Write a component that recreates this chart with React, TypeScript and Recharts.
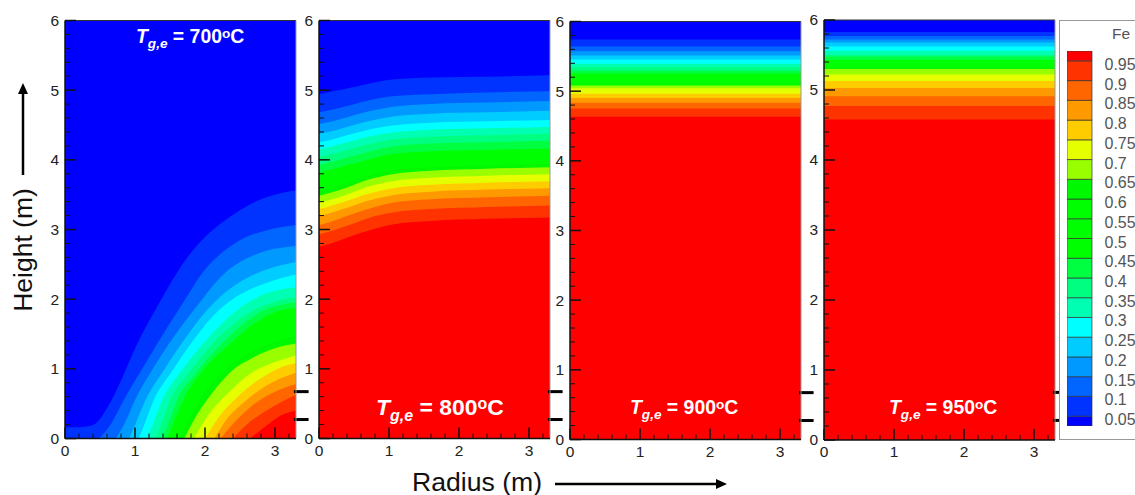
import { Area, AreaChart, Bar, BarChart, ReferenceLine, XAxis, YAxis } from 'recharts';

// Fe contour levels, colours from lowest band (<0.05) to highest (>0.95)
const LEVELS = [0.05, 0.1, 0.15, 0.2, 0.25, 0.3, 0.35, 0.4, 0.45, 0.5, 0.55, 0.6, 0.65, 0.7, 0.75, 0.8, 0.85, 0.9, 0.95];
const BAND_COLORS = [
  '#0000ff', '#0033ff', '#0066ff', '#0099ff', '#00ccff', '#00ffff', '#00ffb3', '#00ff80', '#00ff40', '#00ff00',
  '#00ff00', '#00ff00', '#00f800', '#99ff00', '#e6ff00', '#ffcc00', '#ff9900', '#ff6600', '#ff3300', '#ff0000',
];
const BAND_SIZES = [0.05, ...LEVELS.slice(1).map((l, i) => l - LEVELS[i]), 0.05];

const X_TICKS = [0, 0.2, 0.4, 0.6, 0.8, 1, 1.2, 1.4, 1.6, 1.8, 2, 2.2, 2.4, 2.6, 2.8, 3, 3.2];
const Y_TICKS = [0, 0.2, 0.4, 0.6, 0.8, 1, 1.2, 1.4, 1.6, 1.8, 2, 2.2, 2.4, 2.6, 2.8, 3, 3.2, 3.4, 3.6, 3.8, 4, 4.2, 4.4, 4.6, 4.8, 5, 5.2, 5.4, 5.6, 5.8, 6];
const INNER_MARKS = [0.28, 0.68];

type Pt = [number, number];

// boundary of each level, [radius, height]
const CONTOURS_700: Pt[][] = [
  [[0, 0.17], [0.2, 0.17], [0.4, 0.2], [0.6, 0.44], [0.8, 0.84], [1, 1.3], [1.29, 1.85], [1.75, 2.61], [2, 2.9], [2.22, 3.09], [2.75, 3.42], [3.05, 3.52], [3.3, 3.57]],
  [[0.48, 0], [0.66, 0.22], [0.84, 0.56], [1.1, 1], [1.35, 1.42], [1.62, 1.85], [2.03, 2.47], [2.25, 2.68], [2.51, 2.86], [2.9, 3], [3.3, 3.07]],
  [[0.72, 0], [0.85, 0.22], [1, 0.56], [1.25, 1], [1.55, 1.46], [1.84, 1.85], [2.27, 2.37], [2.75, 2.66], [3.3, 2.77]],
  [[0.91, 0], [1, 0.2], [1.15, 0.56], [1.4, 0.97], [1.7, 1.42], [2.03, 1.85], [2.25, 2.07], [2.46, 2.23], [2.9, 2.44], [3.3, 2.54]],
  [[1.05, 0], [1.13, 0.2], [1.27, 0.56], [1.52, 0.96], [1.85, 1.44], [2.2, 1.85], [2.4, 2.01], [2.61, 2.13], [2.99, 2.28], [3.3, 2.36]],
  [[1.17, 0], [1.25, 0.2], [1.39, 0.56], [1.65, 0.96], [2, 1.4], [2.46, 1.85], [2.85, 2.08], [3.3, 2.18]],
  [[1.29, 0], [1.37, 0.2], [1.5, 0.56], [1.76, 0.94], [2.12, 1.38], [2.7, 1.85], [3, 1.97], [3.3, 2.04]],
  [[1.39, 0], [1.47, 0.2], [1.6, 0.56], [1.85, 0.92], [2.23, 1.36], [2.85, 1.85], [3.3, 1.96]],
  [[1.46, 0], [1.6, 0.36], [1.72, 0.62], [1.95, 0.96], [2.35, 1.36], [2.8, 1.72], [3.1, 1.85], [3.3, 1.88]],
  [[1.52, 0], [1.8, 0.6], [2.1, 1], [2.5, 1.4], [2.9, 1.66], [3.3, 1.76]],
  [[1.58, 0], [1.86, 0.58], [2.2, 1], [2.6, 1.34], [3, 1.56], [3.3, 1.62]],
  [[1.64, 0], [1.9, 0.52], [2.3, 1], [2.7, 1.27], [3.3, 1.48]],
  [[1.7, 0], [1.84, 0.27], [2.08, 0.63], [2.42, 1.01], [2.65, 1.15], [2.99, 1.3], [3.3, 1.37]],
  [[1.84, 0], [2.03, 0.32], [2.32, 0.65], [2.65, 0.94], [2.99, 1.1], [3.3, 1.2]],
  [[2, 0], [2.2, 0.32], [2.46, 0.6], [2.75, 0.84], [3.04, 1.01], [3.3, 1.09]],
  [[2.13, 0], [2.3, 0.27], [2.56, 0.53], [2.85, 0.75], [3.3, 0.95]],
  [[2.22, 0], [2.42, 0.24], [2.65, 0.46], [2.94, 0.65], [3.3, 0.79]],
  [[2.39, 0], [2.61, 0.22], [2.85, 0.39], [3.09, 0.53], [3.3, 0.63]],
  [[2.63, 0], [2.85, 0.17], [3.09, 0.34], [3.3, 0.41]],
];

const R_800 = [0, 0.15, 0.4, 0.7, 1.05, 1.6, 2.4, 3.3];
const H_800 = [
  [4.95, 4.98, 5.03, 5.1, 5.16, 5.19, 5.2, 5.22],
  [4.69, 4.72, 4.78, 4.86, 4.92, 4.95, 4.975, 4.99],
  [4.52, 4.55, 4.62, 4.7, 4.77, 4.81, 4.83, 4.85],
  [4.38, 4.41, 4.48, 4.56, 4.63, 4.67, 4.69, 4.71],
  [4.26, 4.29, 4.36, 4.44, 4.5, 4.54, 4.56, 4.58],
  [4.16, 4.19, 4.26, 4.34, 4.4, 4.44, 4.46, 4.48],
  [4.05, 4.08, 4.15, 4.23, 4.3, 4.34, 4.36, 4.38],
  [3.93, 3.97, 4.04, 4.12, 4.2, 4.24, 4.26, 4.28],
  [3.82, 3.86, 3.93, 4.01, 4.09, 4.13, 4.15, 4.17],
  [3.72, 3.76, 3.83, 3.92, 4, 4.04, 4.06, 4.08],
  [3.64, 3.68, 3.75, 3.84, 3.91, 3.96, 3.98, 4],
  [3.56, 3.6, 3.68, 3.77, 3.86, 3.9, 3.93, 3.95],
  [3.49, 3.53, 3.61, 3.72, 3.8, 3.85, 3.88, 3.9],
  [3.39, 3.43, 3.51, 3.62, 3.7, 3.75, 3.78, 3.8],
  [3.3, 3.34, 3.42, 3.52, 3.6, 3.65, 3.68, 3.7],
  [3.2, 3.24, 3.32, 3.42, 3.5, 3.55, 3.58, 3.6],
  [3.07, 3.11, 3.2, 3.3, 3.39, 3.44, 3.47, 3.49],
  [2.94, 2.98, 3.06, 3.17, 3.25, 3.3, 3.33, 3.35],
  [2.76, 2.8, 2.89, 2.99, 3.08, 3.13, 3.16, 3.18],
];

// these two are flat across the radius
const R_FLAT = [0, 3.3];
const H_900 = [5.75, 5.65, 5.58, 5.52, 5.46, 5.4, 5.35, 5.3, 5.26, 5.21, 5.16, 5.12, 5.09, 5.05, 4.97, 4.91, 4.84, 4.76, 4.64];
const H_950 = [5.83, 5.77, 5.72, 5.68, 5.62, 5.56, 5.5, 5.48, 5.43, 5.39, 5.35, 5.32, 5.3, 5.22, 5.13, 5.03, 4.91, 4.77, 4.58];
const FULL_HEIGHT = [{ r: 0, h: 6 }, { r: 3.3, h: 6 }];

const asPts = (rs: number[], hs: number[]): Pt[] => rs.map((r, i) => [r, hs[i]] as Pt);

const FONT = '"Liberation Sans", Arial, sans-serif';
const PLOT_W = 231;
const M_LEFT = 30;
const M_TOP = 10;
const M_BOTTOM = 26;

const FRAMES = [
  { left: 65, top: 20.5, height: 418 },
  { left: 319, top: 20.5, height: 418 },
  { left: 570, top: 21.5, height: 418 },
  { left: 824, top: 20, height: 420 },
];

function XLabel({ x, y, payload }: any) {
  if (!Number.isInteger(payload.value)) return <g />;
  return <text x={x} y={y + 17} textAnchor="middle" fontSize={15.5} fontFamily={FONT} fill="#222">{payload.value}</text>;
}

function YLabel({ x, y, payload }: any) {
  if (!Number.isInteger(payload.value)) return <g />;
  return <text x={x - 6} y={y + 5} textAnchor="end" fontSize={15.5} fontFamily={FONT} fill="#222">{payload.value}</text>;
}

function Panel({ contours, frame, marksTo }: { contours: Pt[][]; frame: { left: number; top: number; height: number }; marksTo: number }) {
  return (
    <div style={{ position: 'absolute', left: frame.left - M_LEFT, top: frame.top - M_TOP }}>
      <AreaChart width={M_LEFT + PLOT_W + 16} height={M_TOP + frame.height + M_BOTTOM} margin={{ top: M_TOP, right: 16, bottom: 0, left: 0 }}>
        <XAxis type="number" dataKey="r" domain={[0, 3.3]} ticks={X_TICKS} interval={0} allowDataOverflow tick={XLabel} tickLine={false} axisLine={false} tickSize={0} tickMargin={0} height={M_BOTTOM} />
        <YAxis type="number" domain={[0, 6]} ticks={Y_TICKS} interval={0} tick={YLabel} tickLine={false} axisLine={false} tickSize={0} tickMargin={0} width={M_LEFT} />
        <Area data={FULL_HEIGHT} dataKey="h" type="linear" fill={BAND_COLORS[0]} fillOpacity={1} stroke="none" dot={false} activeDot={false} isAnimationActive={false} />
        {contours.map((pts, i) => (
          <Area
            key={LEVELS[i]}
            data={pts.map(([r, v]) => ({ r, h: v }))}
            dataKey="h"
            type="monotone"
            fill={BAND_COLORS[i + 1]}
            fillOpacity={1}
            stroke="none"
            dot={false}
            activeDot={false}
            isAnimationActive={false}
          />
        ))}
        {INNER_MARKS.map((m) => (
          <ReferenceLine isFront key={m} segment={[{ x: 3.27, y: m }, { x: marksTo, y: m }]} stroke="#000" strokeWidth={3} ifOverflow="visible" />
        ))}
      </AreaChart>
    </div>
  );
}

// frame and inward tick marks, on top of the filled plots
function FrameTicks({ left, top, height }: { left: number; top: number; height: number }) {
  const bottom = top + height;
  const right = left + PLOT_W;
  const unitX = PLOT_W / 3.3;
  const unitY = height / 6;
  return (
    <g>
      <line x1={left} x2={right} y1={top} y2={top} stroke="#333" strokeWidth={1} />
      <line x1={right} x2={right} y1={top} y2={bottom} stroke="#999" strokeWidth={1} />
      <line x1={left} x2={right} y1={bottom} y2={bottom} stroke="#111" strokeWidth={1.5} />
      <line x1={left} x2={left} y1={top} y2={bottom} stroke="#111" strokeWidth={1.5} />
      {X_TICKS.map((t) => {
        const major = Number.isInteger(t);
        const x = left + t * unitX;
        return <line key={`x${t}`} x1={x} x2={x} y1={bottom} y2={bottom - (major ? 11 : 5)} stroke="#111" strokeWidth={major ? 1.5 : 1} />;
      })}
      {Y_TICKS.map((t) => {
        const major = Number.isInteger(t);
        const y = bottom - t * unitY;
        return <line key={`y${t}`} x1={left} x2={left + (major ? 11 : 5)} y1={y} y2={y} stroke="#111" strokeWidth={major ? 1.5 : 1} />;
      })}
    </g>
  );
}

function Temp({ value, left, top, size }: { value: string; left: number; top: number; size: number }) {
  return (
    <div style={{ position: 'absolute', left, top, zIndex: 3, color: '#fff', fontFamily: FONT, fontWeight: 700, fontSize: size, whiteSpace: 'nowrap', lineHeight: 1 }}>
      <i>T</i>
      <i style={{ fontSize: size * 0.7, position: 'relative', top: size * 0.25 }}>g,e</i>
      {' = '}
      {value}
      <span style={{ fontSize: size * 0.7, position: 'relative', top: -size * 0.25 }}>o</span>C
    </div>
  );
}

function LegendTick({ x, y, payload }: any) {
  return <text x={x + 12.5} y={y + 9} fontSize={16} fontFamily={FONT} fill="#555">{payload.value}</text>;
}

function FeLegend() {
  const row: Record<string, number | string> = { name: 'Fe' };
  BAND_SIZES.forEach((s, i) => { row[`b${i}`] = s; });
  return (
    <>
      <div style={{ position: 'absolute', left: 1059, top: 20, width: 120, height: 420, border: '1.5px solid #999', boxSizing: 'border-box', background: '#fff', zIndex: 3 }} />
      <div style={{ position: 'absolute', left: 1112, top: 25, fontFamily: FONT, fontSize: 15.5, color: '#555', zIndex: 3 }}>Fe</div>
      <div style={{ position: 'absolute', left: 1067, top: 41, zIndex: 3 }}>
        <BarChart width={95} height={395} data={[row]} barCategoryGap={0} margin={{ top: 10, right: 0, bottom: 10, left: 0 }}>
          <XAxis dataKey="name" hide />
          <YAxis orientation="right" type="number" domain={[0.025, 0.975]} allowDataOverflow ticks={LEVELS} interval={0} width={70} tick={LegendTick} tickLine={false} axisLine={false} tickSize={0} tickMargin={0} />
          {BAND_COLORS.map((c, i) => (
            <Bar key={i} dataKey={`b${i}`} stackId="fe" fill={c} stroke="#333" strokeWidth={0.7} isAnimationActive={false} />
          ))}
        </BarChart>
      </div>
    </>
  );
}

export default function App() {
  return (
    <div style={{ position: 'fixed', left: 0, top: 0, width: 1135, height: 495, overflow: 'hidden', background: '#fff' }}>
      <Panel contours={CONTOURS_700} frame={FRAMES[0]} marksTo={3.48} />
      <Panel contours={H_800.map((hs) => asPts(R_800, hs))} frame={FRAMES[1]} marksTo={3.48} />
      <Panel contours={H_900.map((h) => asPts(R_FLAT, [h, h]))} frame={FRAMES[2]} marksTo={3.48} />
      <Panel contours={H_950.map((h) => asPts(R_FLAT, [h, h]))} frame={FRAMES[3]} marksTo={3.37} />

      <svg width={1135} height={495} style={{ position: 'absolute', left: 0, top: 0, pointerEvents: 'none', zIndex: 2 }}>
        {FRAMES.map((f) => <FrameTicks key={f.left} {...f} />)}
        <line x1={23} x2={23} y1={175} y2={90} stroke="#000" strokeWidth={2.5} />
        <polygon points="23,83 18,94 28,94" fill="#000" />
        <line x1={555} x2={718} y1={484} y2={484} stroke="#000" strokeWidth={2.5} />
        <polygon points="727,484 716,479 716,489" fill="#000" />
      </svg>

      <FeLegend />

      <Temp value="700" left={136} top={27} size={19.4} />
      <Temp value="800" left={376} top={396} size={22.9} />
      <Temp value="900" left={630} top={398} size={19.4} />
      <Temp value="950" left={889} top={398} size={19.4} />

      <div style={{ position: 'absolute', left: 23, top: 249.5, transform: 'translate(-50%, -50%) rotate(-90deg)', fontFamily: FONT, fontSize: 26.5, color: '#111', whiteSpace: 'nowrap' }}>Height (m)</div>
      <div style={{ position: 'absolute', left: 412, top: 469, fontFamily: FONT, fontSize: 26.6, color: '#111', whiteSpace: 'nowrap', lineHeight: '26px' }}>Radius (m)</div>
    </div>
  );
}
